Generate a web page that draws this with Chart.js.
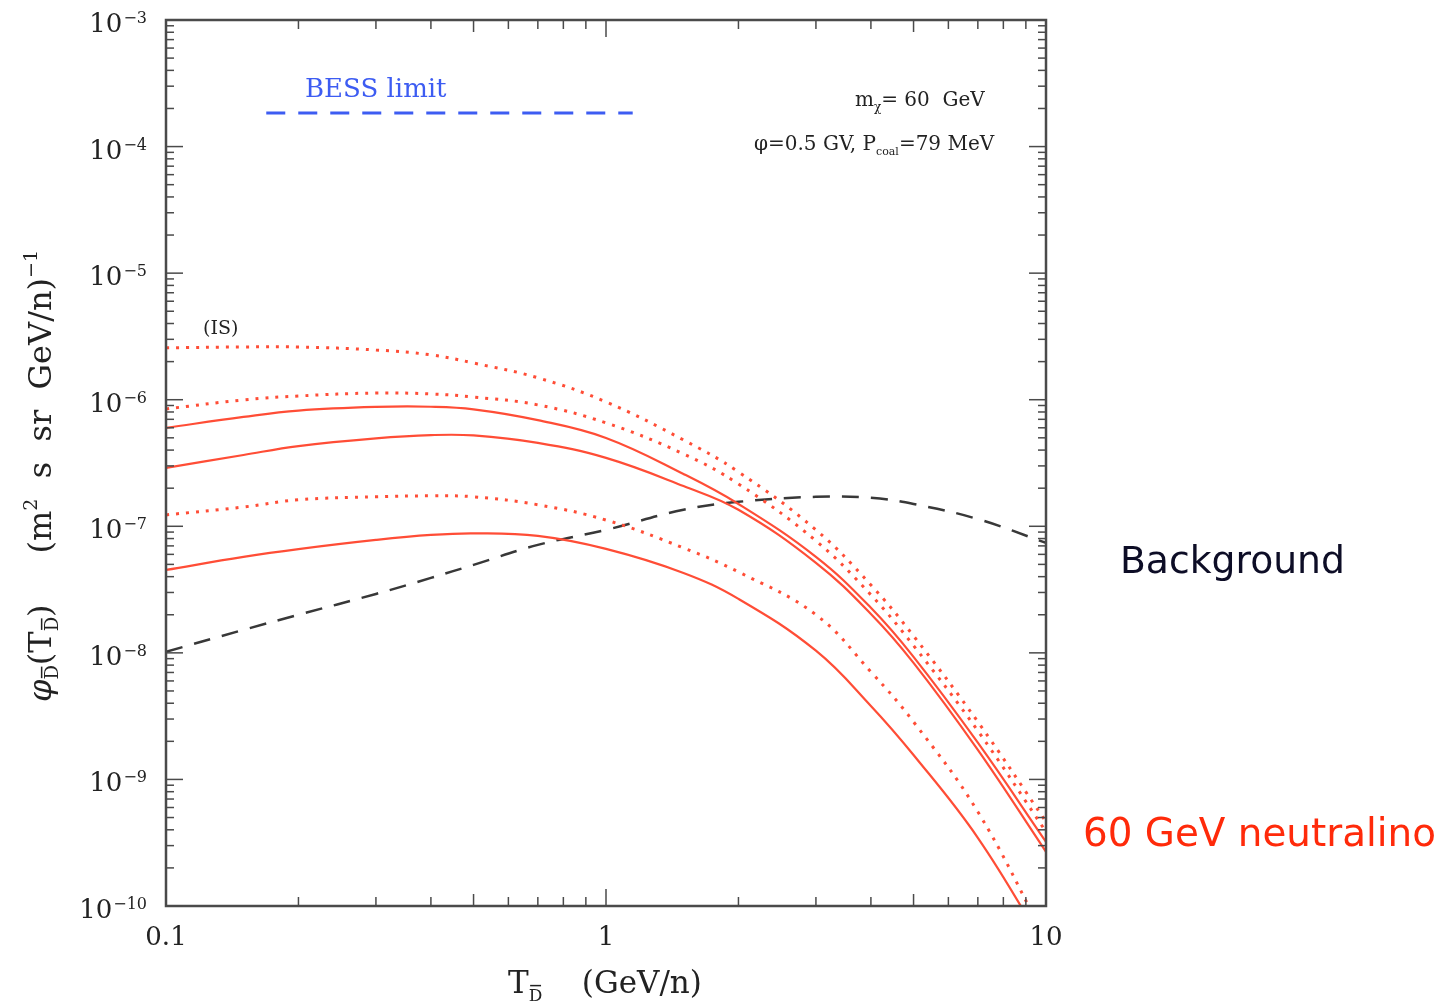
<!DOCTYPE html>
<html>
<head>
<meta charset="utf-8">
<title>Antideuteron flux - 60 GeV neutralino</title>
<script src="https://cdn.jsdelivr.net/npm/chart.js@4.4.1/dist/chart.umd.min.js"></script>
<style>
  html, body { margin: 0; padding: 0; background: #fff; }
  #wrap { position: relative; width: 1444px; height: 1003px; }
</style>
</head>
<body>
<div id="wrap"><canvas id="flux" width="1444" height="1003"></canvas></div>
<script>
// kinetic energy per nucleon (GeV/n)
const energy = [0.1, 0.15, 0.2, 0.3, 0.4, 0.5, 0.7, 1, 1.5, 2, 3, 4, 5, 7, 10];

// neutralino signal, interstellar (dotted)
const isMax = [2.57e-6, 2.61e-6, 2.61e-6, 2.47e-6, 2.26e-6, 1.95e-6, 1.49e-6, 9.61e-7, 4.81e-7, 2.69e-7, 9.37e-8, 3.44e-8, 1.36e-8, 2.85e-9, 4.63e-10];
const isMed = [8.46e-7, 9.96e-7, 1.07e-6, 1.13e-6, 1.11e-6, 1.05e-6, 9.10e-7, 6.56e-7, 3.73e-7, 2.16e-7, 7.67e-8, 2.87e-8, 1.14e-8, 2.42e-9, 3.86e-10];
const isMin = [1.23e-7, 1.42e-7, 1.62e-7, 1.71e-7, 1.74e-7, 1.71e-7, 1.48e-7, 1.12e-7, 6.75e-8, 4.36e-8, 2.00e-8, 7.08e-9, 2.85e-9, 5.55e-10, 5.41e-11];

// neutralino signal, solar modulated (solid)
const tsMax = [5.99e-7, 7.31e-7, 8.20e-7, 8.77e-7, 8.80e-7, 8.40e-7, 6.90e-7, 4.99e-7, 2.59e-7, 1.50e-7, 5.73e-8, 2.27e-8, 9.30e-9, 1.95e-9, 3.21e-10];
const tsMed = [2.89e-7, 3.66e-7, 4.30e-7, 4.95e-7, 5.25e-7, 5.22e-7, 4.56e-7, 3.47e-7, 2.08e-7, 1.35e-7, 5.14e-8, 2.03e-8, 8.34e-9, 1.71e-9, 2.68e-10];
const tsMin = [4.52e-8, 5.73e-8, 6.60e-8, 7.80e-8, 8.55e-8, 8.80e-8, 8.40e-8, 6.63e-8, 4.28e-8, 2.67e-8, 1.04e-8, 3.81e-9, 1.56e-9, 3.46e-10, 4.67e-11];

// secondary background (dashed)
const background = [1.02e-8, 1.52e-8, 2.00e-8, 2.92e-8, 3.91e-8, 4.96e-8, 7.13e-8, 9.37e-8, 1.35e-7, 1.56e-7, 1.71e-7, 1.68e-7, 1.50e-7, 1.14e-7, 7.39e-8];

// BESS upper limit
const bessRange = [0.169, 1.15];
const bessLevel = 1.84e-4;

// axis ticks
const xTickVals = [0.1, 1, 10];
const xTickLabels = ['0.1', '1', '10'];
const yTickExp = [-10, -9, -8, -7, -6, -5, -4, -3];

const RED = '#ff4d36';
const SERIF = '"DejaVu Serif", serif';
const SANS = '"DejaVu Sans", sans-serif';

const pts = arr => energy.map((e, i) => ({ x: e, y: arr[i] }));

function curve(arr, dotted) {
    return {
        data: pts(arr),
        borderColor: RED,
        borderWidth: dotted ? 3 : 2.2,
        borderDash: dotted ? [3, 7] : [],
        pointRadius: 0,
        tension: 0.4,
        fill: false
    };
}

function setFont(ctx, p) {
    ctx.font = (p.italic ? 'italic ' : '') + p.size + 'px ' + SERIF;
}

function piecesWidth(ctx, pieces) {
    let w = 0;
    pieces.forEach(p => { setFont(ctx, p); w += ctx.measureText(p.t).width; });
    return w;
}

// text with sub/superscripts, drawn left to right from a baseline
function drawPieces(ctx, pieces, x, y) {
    pieces.forEach(p => {
        setFont(ctx, p);
        const w = ctx.measureText(p.t).width;
        const by = y + (p.dy || 0);
        ctx.fillText(p.t, x, by);
        if (p.bar) {
            ctx.fillRect(x + w * 0.1, by - p.size * 0.95, w * 0.8, 1.5);
        }
        x += w;
    });
    return x;
}

function fitSize(ctx, text, family, width) {
    ctx.font = '100px ' + family;
    return 100 * width / ctx.measureText(text).width;
}

const decorations = {
    id: 'decorations',
    afterDraw(chart) {
        const { ctx, chartArea: a, scales: { x, y } } = chart;
        ctx.save();

        // frame
        ctx.strokeStyle = '#4a4a4a';
        ctx.lineWidth = 2.5;
        ctx.strokeRect(a.left, a.top, a.right - a.left, a.bottom - a.top);

        // inward ticks on all four sides
        ctx.lineWidth = 1.5;
        const seg = (x1, y1, x2, y2) => { ctx.beginPath(); ctx.moveTo(x1, y1); ctx.lineTo(x2, y2); ctx.stroke(); };
        [0.1, 1].forEach(d => {
            for (let m = 1; m <= 9; m++) {
                const px = x.getPixelForValue(d * m);
                const len = m === 1 ? 17 : (m === 5 ? 12 : 9);
                seg(px, a.bottom, px, a.bottom - len);
                seg(px, a.top, px, a.top + len);
            }
        });
        for (let e = -10; e < -3; e++) {
            for (let m = 1; m <= 9; m++) {
                const py = y.getPixelForValue(m * Math.pow(10, e));
                const len = m === 1 ? 17 : 8;
                seg(a.left, py, a.left + len, py);
                seg(a.right, py, a.right - len, py);
            }
        }

        // tick labels
        ctx.fillStyle = '#222';
        ctx.textBaseline = 'alphabetic';
        yTickExp.forEach(e => {
            const py = y.getPixelForValue(Math.pow(10, e));
            const ex = '\u2212' + Math.abs(e);
            ctx.font = '16px ' + SERIF;
            const ew = ctx.measureText(ex).width;
            const right = a.left - 19;
            ctx.textAlign = 'left';
            ctx.fillText(ex, right - ew, py + 3);
            ctx.font = '26px ' + SERIF;
            ctx.textAlign = 'right';
            ctx.fillText('10', right - ew - 1, py + 12);
        });
        ctx.font = '26px ' + SERIF;
        ctx.textAlign = 'center';
        xTickVals.forEach((v, i) => {
            ctx.fillText(xTickLabels[i], x.getPixelForValue(v), a.bottom + 39);
        });
        ctx.textAlign = 'left';

        // x axis title
        const xt = [
            { t: 'T', size: 31 },
            { t: 'D', size: 17, dy: 8, bar: true },
            { t: '    (GeV/n)', size: 31 }
        ];
        drawPieces(ctx, xt, 605 - piecesWidth(ctx, xt) / 2, a.bottom + 87);

        // y axis title
        const yt = [
            { t: '\u03c6', size: 32, italic: true },
            { t: 'D', size: 18, dy: 7, bar: true },
            { t: '(T', size: 32 },
            { t: 'D', size: 18, dy: 7, bar: true },
            { t: ')     (m', size: 32 },
            { t: '2', size: 19, dy: -14 },
            { t: '  s  sr  GeV/n)', size: 32 },
            { t: '\u22121', size: 19, dy: -14 }
        ];
        ctx.save();
        ctx.translate(51, 476);
        ctx.rotate(-Math.PI / 2);
        drawPieces(ctx, yt, -piecesWidth(ctx, yt) / 2, 0);
        ctx.restore();

        // in-plot annotations
        ctx.fillStyle = '#3d5cf2';
        ctx.font = '26px ' + SERIF;
        ctx.fillText('BESS limit', 305, 97);

        ctx.fillStyle = '#222';
        ctx.font = '19px ' + SERIF;
        ctx.fillText('(IS)', 203, 334);

        drawPieces(ctx, [
            { t: 'm', size: 20 },
            { t: '\u03c7', size: 12, dy: 5 },
            { t: '= 60  GeV', size: 20 }
        ], 855, 106);
        drawPieces(ctx, [
            { t: '\u03c6=0.5 GV, P', size: 20 },
            { t: 'coal', size: 11, dy: 5 },
            { t: '=79 MeV', size: 20 }
        ], 754, 150);

        // labels outside the frame
        ctx.fillStyle = '#0d0d26';
        let s = fitSize(ctx, 'Background', SANS, 225);
        ctx.font = s + 'px ' + SANS;
        ctx.fillText('Background', 1120, 573);
        ctx.fillStyle = '#ff2a0a';
        s = fitSize(ctx, '60 GeV neutralino', SANS, 353);
        ctx.font = s + 'px ' + SANS;
        ctx.fillText('60 GeV neutralino', 1083, 846);

        ctx.restore();
    }
};

new Chart(document.getElementById('flux'), {
    type: 'line',
    data: {
        datasets: [
            curve(isMax, true),
            curve(isMed, true),
            curve(isMin, true),
            curve(tsMax, false),
            curve(tsMed, false),
            curve(tsMin, false),
            {
                data: pts(background),
                borderColor: '#383838',
                borderWidth: 2.5,
                borderDash: [17, 12],
                pointRadius: 0,
                tension: 0.4,
                fill: false
            },
            {
                data: bessRange.map(v => ({ x: v, y: bessLevel })),
                borderColor: '#3d5cf2',
                borderWidth: 3,
                borderDash: [19, 13],
                pointRadius: 0,
                fill: false
            }
        ]
    },
    options: {
        responsive: false,
        devicePixelRatio: 1,
        animation: false,
        layout: { padding: { left: 166, top: 20, right: 398, bottom: 97 } },
        plugins: { legend: { display: false }, tooltip: { enabled: false } },
        scales: {
            x: { type: 'logarithmic', min: 0.1, max: 10, display: false },
            y: { type: 'logarithmic', min: 1e-10, max: 1e-3, display: false }
        }
    },
    plugins: [decorations]
});
</script>
</body>
</html>
